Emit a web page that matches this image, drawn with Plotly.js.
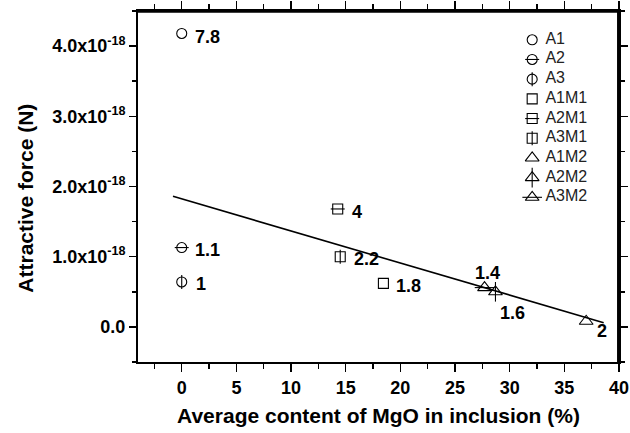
<!DOCTYPE html>
<html>
<head>
<meta charset="utf-8">
<script src="https://cdn.plot.ly/plotly-3.0.1.min.js"></script>
<style>html,body{margin:0;padding:0;background:#fff}#chart{width:630px;height:433px}</style>
</head>
<body>
<div id="chart"></div>
<script>
// ---- data ----
const series = ['A1','A2','A3','A1M1','A2M1','A3M1','A1M2','A2M2','A3M2'];
const mgoContent = [0, 0, 0, 18.45, 14.27, 14.5, 37.0, 28.7, 27.7];            // %
const attractiveForce = [4.18e-18, 1.13e-18, 0.64e-18, 0.62e-18, 1.68e-18, 1.00e-18, 0.08e-18, 0.50e-18, 0.56e-18]; // N
const pointLabels = ['7.8', '1.1', '1', '1.8', '4', '2.2', '2', '1.6', '1.4'];
const fitX = [-0.8, 38.6];
const fitY = [1.86e-18, 0.06e-18];
const xTickVals = [0, 5, 10, 15, 20, 25, 30, 35, 40];
const yTickVals = [0, 1e-18, 2e-18, 3e-18, 4e-18];
const yTickText = ['0.0', '1.0x10<sup>-18</sup>', '2.0x10<sup>-18</sup>', '3.0x10<sup>-18</sup>', '4.0x10<sup>-18</sup>'];

// ---- styles ----
const baseSym = ['circle-open','circle-open','circle-open','square-open','square-open','square-open','triangle-up-open','triangle-up-open','triangle-up-open'];
const barSym  = [null,'line-ew-open','line-ns-open',null,'line-ew-open','line-ns-open',null,'line-ns-open','line-ew-open'];
const symSize = [10,10,10,10,10,10,12,12,12];
const barSize = [10,10,10,10,10,10,12,14,14];
// label placement: [xshift, yshift(px, up positive), xanchor]
const labelPlace = [[11,-4,'left'],[11,-2,'left'],[12,-2,'left'],[11,-3,'left'],[12,-3,'left'],[12,-2,'left'],[9,-10,'left'],[17,-21,'center'],[3,15,'center']];
const FONT = 'Liberation Sans, Arial, sans-serif';
const ink = '#000';
const xr = [-4, 40.001], yr = [-0.5e-18, 4.5e-18];
const fx = f => xr[0] + f * (xr[1] - xr[0]);
const fy = f => yr[0] + f * (yr[1] - yr[0]);

const traces = [];
traces.push({x: fitX, y: fitY, mode: 'lines', line: {color: ink, width: 1.6}, hoverinfo: 'skip', showlegend: false});
series.forEach((s, i) => {
  traces.push({x: [mgoContent[i]], y: [attractiveForce[i]], mode: 'markers', name: s, showlegend: false,
    marker: {symbol: baseSym[i], size: symSize[i], color: ink, line: {width: 1.1, color: ink}}});
  if (barSym[i]) traces.push({x: [mgoContent[i]], y: [attractiveForce[i]], mode: 'markers', showlegend: false, hoverinfo: 'skip',
    marker: {symbol: barSym[i], size: barSize[i], color: ink, line: {width: 1.1, color: ink}}});
});

// custom legend, placed at fractions of the plot area
const legX = 0.8195, legTextX = 0.847, legTop = 0.918, legStep = 0.0561;
const legY = series.map((s, i) => fy(legTop - i * legStep));
series.forEach((s, i) => {
  traces.push({x: [fx(legX)], y: [legY[i]], mode: 'markers', showlegend: false, hoverinfo: 'skip',
    marker: {symbol: baseSym[i], size: symSize[i], color: ink, line: {width: 1.1, color: ink}}});
  if (barSym[i]) traces.push({x: [fx(legX)], y: [legY[i]], mode: 'markers', showlegend: false, hoverinfo: 'skip',
    marker: {symbol: barSym[i], size: barSize[i], color: ink, line: {width: 1.1, color: ink}}});
});
traces.push({x: series.map(() => fx(legTextX)), y: legY, text: series, mode: 'text',
  textposition: 'middle right', textfont: {family: FONT, size: 16, color: '#222'}, showlegend: false, hoverinfo: 'skip'});

const annotations = series.map((s, i) => ({
  x: mgoContent[i], y: attractiveForce[i], xref: 'x', yref: 'y', text: pointLabels[i], showarrow: false,
  xanchor: labelPlace[i][2], yanchor: 'middle', xshift: labelPlace[i][0], yshift: labelPlace[i][1],
  font: {family: FONT, size: 18, weight: 'bold', color: ink}
}));
annotations.push({xref: 'paper', yref: 'paper', x: -0.2344, y: 0.466, text: 'Attractive force (N)', textangle: -90,
  showarrow: false, xanchor: 'center', yanchor: 'middle', font: {family: FONT, size: 21, weight: 'bold', color: ink}});

const tickFont = {family: FONT, size: 18, weight: 'bold', color: ink};
const layout = {
  width: 630, height: 433,
  margin: {l: 138, r: 11, t: 11, b: 71},
  paper_bgcolor: '#fff', plot_bgcolor: '#fff',
  showlegend: false,
  xaxis: {range: xr, tickmode: 'array', tickvals: xTickVals, ticks: 'outside', ticklen: 8, tickwidth: 1.5, tickcolor: ink,
    minor: {tickmode: 'linear', tick0: 0, dtick: 2.5, ticks: 'outside', ticklen: 5, tickwidth: 1.5, tickcolor: ink},
    ticklabeloverflow: 'allow', mirror: 'ticks',
    showline: true, linecolor: ink, linewidth: 2, showgrid: false, zeroline: false, tickfont: tickFont,
    title: {text: 'Average content of MgO in inclusion (%)', font: {family: FONT, size: 21, weight: 'bold', color: ink}, standoff: 12}},
  yaxis: {range: yr, tickmode: 'array', tickvals: yTickVals, ticktext: yTickText, ticks: 'outside', ticklen: 7, tickwidth: 1.5, tickcolor: ink,
    minor: {tickmode: 'linear', tick0: 0, dtick: 0.5e-18, ticks: 'outside', ticklen: 4, tickwidth: 1.5, tickcolor: ink},
    ticklabeloverflow: 'allow', mirror: 'ticks',
    showline: true, linecolor: ink, linewidth: 2, showgrid: false, zeroline: false, tickfont: tickFont},
  shapes: [
    {type: 'line', xref: 'paper', yref: 'paper', x0: 0, x1: 1, y0: 0.998, y1: 0.998, line: {color: ink, width: 2}, layer: 'above'},
    {type: 'line', xref: 'paper', yref: 'paper', x0: 0.998, x1: 0.998, y0: 0, y1: 1, line: {color: ink, width: 2}, layer: 'above'}
  ],
  annotations: annotations
};
Plotly.newPlot('chart', traces, layout, {displayModeBar: false, staticPlot: true});
</script>
</body>
</html>
